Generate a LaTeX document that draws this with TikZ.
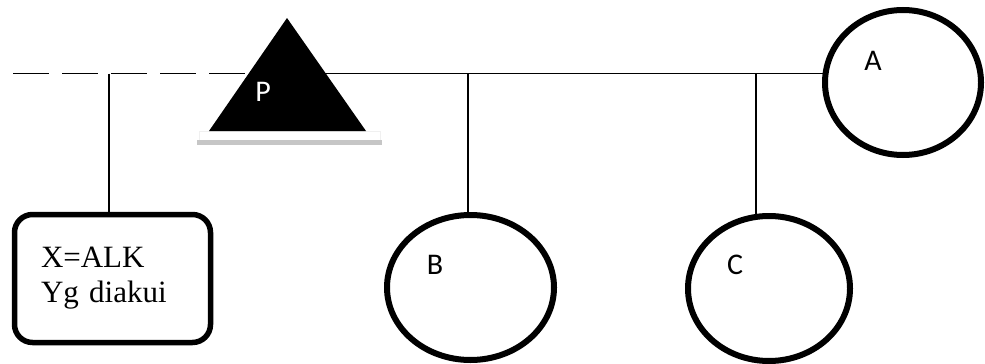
\documentclass[tikz,border=0pt]{standalone}
\usepackage{fontspec}
\setmainfont{Liberation Serif}
\newfontfamily\labelfont{Carlito}
\usetikzlibrary{shapes.geometric, backgrounds}

\begin{document}
\begin{tikzpicture}[x=1pt, y=-1pt,
		line/.style={line width=1.8pt},   %Verbindungslinien
		kreis/.style={ellipse, draw, line width=6pt, fill=white, inner sep=0pt},
		kasten/.style={rectangle, rounded corners=18pt, draw, line width=5.5pt, fill=white,
			align=left, text width=143pt, inner xsep=26.5pt, minimum height=128pt,
			font=\fontsize{31}{35}\selectfont},
		buchst/.style={font=\labelfont\fontsize{30}{30}\selectfont}]
	%Bildbereich
	\useasboundingbox (0,0) rectangle (985,364);
	% Dreieck P mit Schatten
	\coordinate (pl) at (209,131);
	\coordinate (pt) at (287,18);
	\coordinate (pr) at (366,131);
	\draw[gray!12, line width=0.6pt] (199,131) rectangle (380,143);
	\fill[gray!45] (197,140) rectangle (382,145);
	\fill[black] (pl) -- (pt) -- (pr) -- cycle;
	\node[buchst, text=white] (P) at (263,92) {P};
	% Knoten
	\node[kasten] (box) at (112.5,278.5) {X=ALK\\Yg diakui};
	\node[kreis, minimum width=156pt, minimum height=145pt,
		label={[buchst, xshift=-30pt, yshift=21.5pt]center:A}] (A) at (903,82.5) {};
	\node[kreis, minimum width=167pt, minimum height=145pt,
		label={[buchst, xshift=-35.5pt, yshift=22.5pt]center:B}] (B) at (470.5,287.5) {};
	\node[kreis, minimum width=162pt, minimum height=145pt,
		label={[buchst, xshift=-34pt, yshift=23.5pt]center:C}] (C) at (769,288.5) {};
	% Linien
	\coordinate (anfang) at (13,73.5);
	\coordinate (tl) at (250,73.5);
	\coordinate (tr) at (325,73.5);
	\coordinate (jX) at (109,73.5);
	\coordinate (jB) at (468,73.5);
	\coordinate (jC) at (756,73.5);
	\begin{scope}[on background layer]
		\draw[line, dash pattern=on 36pt off 13pt] (anfang) -- (tl);
		\draw[line, shorten >=-3pt] (tr) -- (tr -| A.west);
		\draw[line, shorten >=-3pt] (jX) -- (jX |- box.north);
		\foreach \k in {B,C} \draw[line, shorten >=-3pt] (j\k) -- (j\k |- \k.north);
	\end{scope}
\end{tikzpicture}
\end{document}
